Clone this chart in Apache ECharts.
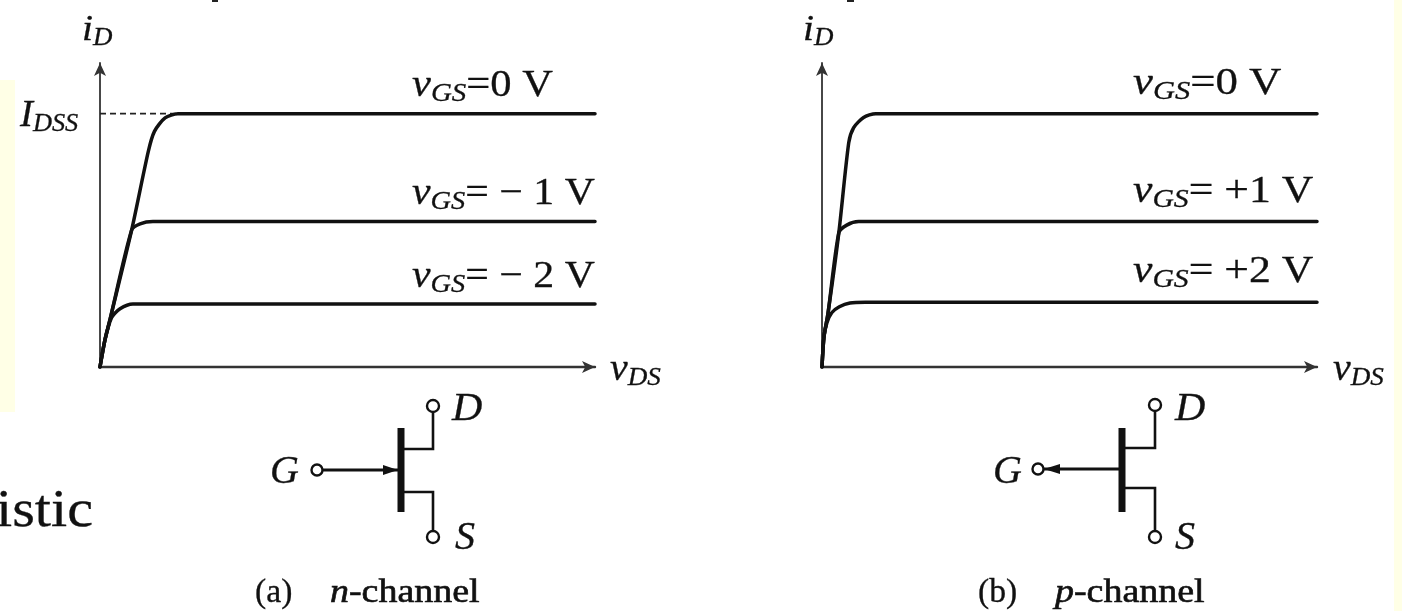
<!DOCTYPE html>
<html><head><meta charset="utf-8">
<style>html,body{margin:0;padding:0;background:#fff}#c{width:1402px;height:611px;filter:blur(0.6px)}</style>
<script src="https://cdn.jsdelivr.net/npm/echarts@6/dist/echarts.min.js"></script>
</head><body><div id="c"></div>
<script>
// Drain characteristics, values in axis units ([vDS, iD])
const nVgs0 = [[0,0],[0.2,1.07],[0.4,1.86],[1.28,5.41],[1.95,8.5],[2.2,9.3],[2.63,9.83],[3.15,10],[20,10]];
const nVgs1 = [[0,0],[0.2,1.07],[0.4,1.86],[1.28,5.41],[1.62,5.65],[2.14,5.74],[20,5.74]];
const nVgs2 = [[0,0],[0.2,1.07],[0.47,1.95],[0.81,2.3],[1.33,2.49],[20,2.49]];
const pVgs0 = [[0,0],[0.08,1.2],[0.24,2.1],[0.68,5.3],[1.08,8.85],[1.28,9.45],[1.68,9.85],[2.17,10],[20,10]];
const pVgs1 = [[0,0],[0.08,1.2],[0.24,2.1],[0.68,5.3],[1.0,5.6],[1.48,5.74],[20,5.74]];
const pVgs2 = [[0,0],[0.08,1.2],[0.2,1.75],[0.4,2.15],[0.7,2.38],[1.13,2.53],[1.75,2.56],[20,2.56]];
const idssLine = [[0,10],[3.15,10]];
const nLabels = ['=0 V','= \u2212 1 V','= \u2212 2 V'];
const pLabels = ['=0 V','= +1 V','= +2 V'];

const serif = '"Liberation Serif","DejaVu Serif",serif';
const ink = '#111';
const chart = echarts.init(document.getElementById('c'));

function axes(i){
  const line = w => ({show:true,onZero:false,symbol:['none','arrow'],symbolSize:[9,13],symbolOffset:[0,0],lineStyle:{color:'#333',width:w}});
  return {
    x:{type:'value',gridIndex:i,min:0,max:20,axisLine:line(2.4),axisTick:{show:false},axisLabel:{show:false},splitLine:{show:false}},
    y:{type:'value',gridIndex:i,min:0,max:12,axisLine:line(1.8),axisTick:{show:false},axisLabel:{show:false},splitLine:{show:false}}
  };
}
const a0 = axes(0), a1 = axes(1);
const curve = (name,data,i) => ({name,type:'line',xAxisIndex:i,yAxisIndex:i,data,showSymbol:false,smooth:0.25,
  lineStyle:{color:ink,width:3.5,cap:'round'},silent:true,animation:false,z:3});

function rich(size){ return {
  v:{fontFamily:serif,fontStyle:'italic',fontSize:size,fill:ink,color:ink,stroke:ink,lineWidth:0.3},
  s:{fontFamily:serif,fontStyle:'italic',fontSize:size*0.68,fill:ink,color:ink,stroke:ink,lineWidth:0.3,padding:[size*0.42,0,0,0]},
  t:{fontFamily:serif,fontSize:size,fill:ink,color:ink,stroke:ink,lineWidth:0.3}
};}
function label(x,y,text,sx,size){
  return {type:'text',x,y,scaleX:sx,style:{text,rich:rich(size||38),align:'left',verticalAlign:'middle'},silent:true,z:5};
}
function vgs(x,y,val,sx){ return label(x,y,'{v|v}{s|GS}{t|'+val+'}',sx); }
function plain(x,y,text,size,style,sx){
  return {type:'text',x,y,scaleX:sx||1,style:{text,font:(style||'italic')+' normal '+size+'px '+serif,fill:ink,stroke:ink,lineWidth:0.3,verticalAlign:'middle'},silent:true,z:5};
}
function seg(x1,y1,x2,y2,w){ return {type:'line',shape:{x1,y1,x2,y2},style:{stroke:ink,lineWidth:w},silent:true}; }
function ring(cx,cy,r){ return {type:'ellipse',shape:{cx,cy,rx:r,ry:r},style:{fill:'#fff',stroke:ink,lineWidth:2.4},silent:true,z:4}; }
function fet(o){
  const tri = o.pointIn
    ? [[o.bar-3,o.g[1]],[o.bar-18,o.g[1]-5],[o.bar-18,o.g[1]+5]]
    : [[o.g[0]+6,o.g[1]],[o.g[0]+22,o.g[1]-5],[o.g[0]+22,o.g[1]+5]];
  return [
    seg(o.g[0],o.g[1],o.bar,o.g[1],3),
    {type:'polygon',shape:{points:tri},style:{fill:ink},silent:true},
    seg(o.bar,428,o.bar,512,7),
    {type:'polyline',shape:{points:[[o.bar,o.dy],[o.dx,o.dy],[o.dx,o.dc]]},style:{stroke:ink,lineWidth:2.6,fill:null},silent:true},
    {type:'polyline',shape:{points:[[o.bar,o.sy],[o.dx,o.sy],[o.dx,537]]},style:{stroke:ink,lineWidth:2.6,fill:null},silent:true},
    ring(o.g[0],o.g[1],5.5), ring(o.dx,o.dc,6), ring(o.dx,537,6)
  ];
}
function caption(x,tag,xn,letter){
  const r = {fontFamily:serif,fontSize:33,fill:ink,color:ink,stroke:ink,lineWidth:0.6};
  return [
    {type:'text',x,y:593,scaleX:1.02,style:{text:tag,font:'33px '+serif,fill:ink,stroke:ink,lineWidth:0.3,verticalAlign:'middle'},silent:true,z:5},
    {type:'text',x:xn,y:593,scaleX:1.15,style:{text:'{v|'+letter+'}{t|-channel}',rich:{t:r,v:Object.assign({},r,{fontStyle:'italic'})},verticalAlign:'middle'},silent:true,z:5}
  ];
}

const graphics = [
  {type:'rect',shape:{x:0,y:80,width:15,height:332},style:{fill:'#ffffe6'},silent:true},
  {type:'rect',shape:{x:1394,y:0,width:8,height:611},style:{fill:'#ffffe6'},silent:true},
  {type:'rect',shape:{x:212,y:0,width:6,height:2},style:{fill:'#222'},silent:true},
  {type:'rect',shape:{x:847,y:0,width:7,height:2},style:{fill:'#222'},silent:true},
  vgs(412,86,nLabels[0],1.12), vgs(412,194,nLabels[1],1.1), vgs(412,277,nLabels[2],1.1),
  vgs(1133,84,pLabels[0],1.18), vgs(1133,192,pLabels[1],1.15), vgs(1133,272,pLabels[2],1.15),
  label(82,31,'{v|i}{s|D}',1.1,36), label(803,31,'{v|i}{s|D}',1.1,36),
  label(20,116,'{v|I}{s|DSS}',1.02,38),
  label(610,370,'{v|v}{s|DS}',1.05,38), label(1333,370,'{v|v}{s|DS}',1.05,38),
  plain(270,472,'G',40), plain(452,409,'D',40,'italic',1.05), plain(455,538,'S',40),
  plain(993,472,'G',40), plain(1175,409,'D',40,'italic',1.05), plain(1175,538,'S',40),
  plain(-4,512,'istic',52,'normal',1.12),
  ...caption(255,'(a)',330,'n'),
  ...caption(978,'(b)',1055,'p'),
  ...fet({pointIn:true,g:[317,470],bar:401,dx:433,dy:449,sy:492,dc:406}),
  ...fet({pointIn:false,g:[1038,469],bar:1122,dx:1155,dy:448,sy:488,dc:405})
];

chart.setOption({
  backgroundColor:'#fff',
  animation:false,
  grid:[
    {left:100,top:63,width:495,height:304},
    {left:822,top:63,width:495,height:304}
  ],
  xAxis:[a0.x,a1.x],
  yAxis:[a0.y,a1.y],
  series:[
    curve('vGS=0 V',nVgs0,0),curve('vGS=-1 V',nVgs1,0),curve('vGS=-2 V',nVgs2,0),
    {name:'IDSS',type:'line',xAxisIndex:0,yAxisIndex:0,data:idssLine,showSymbol:false,silent:true,lineStyle:{color:'#222',width:1.6,type:[6,4]},z:2},
    curve('vGS=0 V (p)',pVgs0,1),curve('vGS=+1 V',pVgs1,1),curve('vGS=+2 V',pVgs2,1)
  ],
  graphic:graphics
});
</script></body></html>
